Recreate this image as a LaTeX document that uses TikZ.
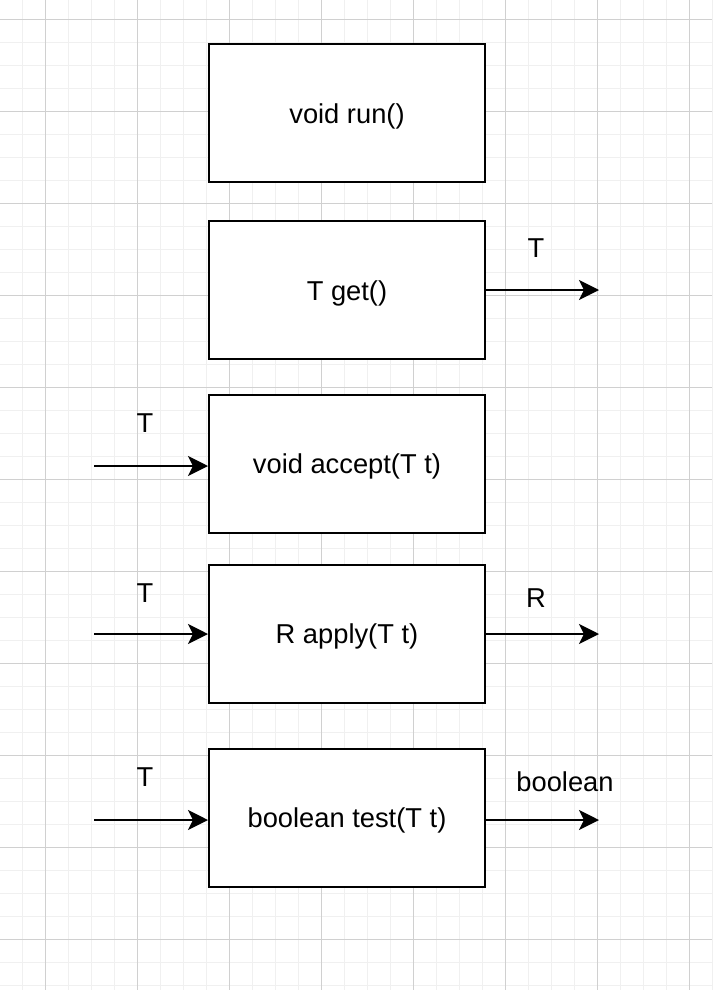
\documentclass[tikz,border=0pt]{standalone}
\usepackage{fontspec}
\setmainfont{Liberation Sans}
\usetikzlibrary{arrows.meta}
\definecolor{minorgrid}{HTML}{F0F0F0}
\definecolor{majorgrid}{HTML}{D0D0D0}
\begin{document}
\begin{tikzpicture}[x=1pt,y=-1pt,
  fn/.style={draw=black,line width=2pt,fill=white,minimum width=276pt,minimum height=138pt,inner sep=0pt,text height=24pt,text depth=4pt,font=\fontsize{27.3}{32}\selectfont},
  lbl/.style={font=\fontsize{27.3}{32}\selectfont,inner sep=0pt},
  flow/.style={line width=2pt,-{Stealth[length=20pt,width=20pt,inset=5pt]}}]
\useasboundingbox (0,0) rectangle (712,990);
\fill[white] (0,0) rectangle (712,990);
% minor grid
\foreach \i in {0,...,31} {
  \draw[minorgrid,line width=1pt] ({-0.5+23*\i},0) -- ({-0.5+23*\i},990);
}
\foreach \i in {0,...,43} {
  \draw[minorgrid,line width=1pt] (0,{-3.5+23*\i}) -- (712,{-3.5+23*\i});
}
% major grid
\foreach \i in {0,...,7} {
  \draw[majorgrid,line width=1pt] ({45.5+92*\i},0) -- ({45.5+92*\i},990);
}
\foreach \i in {0,...,10} {
  \draw[majorgrid,line width=1pt] (0,{19.5+92*\i}) -- (712,{19.5+92*\i});
}
% boxes
\node[fn] (run) at (347,113) {void run()};
\node[fn] (get) at (347,290) {T get()};
\node[fn] (accept) at (347,463.5) {void accept(T t)};
\node[fn] (apply) at (347,633.5) {R apply(T t)};
\node[fn] (test) at (347,817.5) {boolean test(T t)};
% free ends
\coordinate (getout) at (599,290);
\coordinate (accin) at (94,466);
\coordinate (appin) at (94,634);
\coordinate (appout) at (599,634);
\coordinate (testin) at (94,820);
\coordinate (testout) at (599,820);
% connectors
\draw[flow] (get.east |- getout) -- (getout);
\draw[flow] (accin) -- (accin -| accept.west);
\draw[flow] (appin) -- (appin -| apply.west);
\draw[flow] (apply.east |- appout) -- (appout);
\draw[flow] (testin) -- (testin -| test.west);
\draw[flow] (test.east |- testout) -- (testout);
% labels
\node[lbl] (lget) at (536,248) {T};
\node[lbl] (lacc) at (145,423) {T};
\node[lbl] (lappin) at (145,593) {T};
\node[lbl] (lappout) at (536,598) {R};
\node[lbl] (ltestin) at (145,777) {T};
\node[lbl] (ltestout) at (565,782) {boolean};
\end{tikzpicture}
\end{document}
